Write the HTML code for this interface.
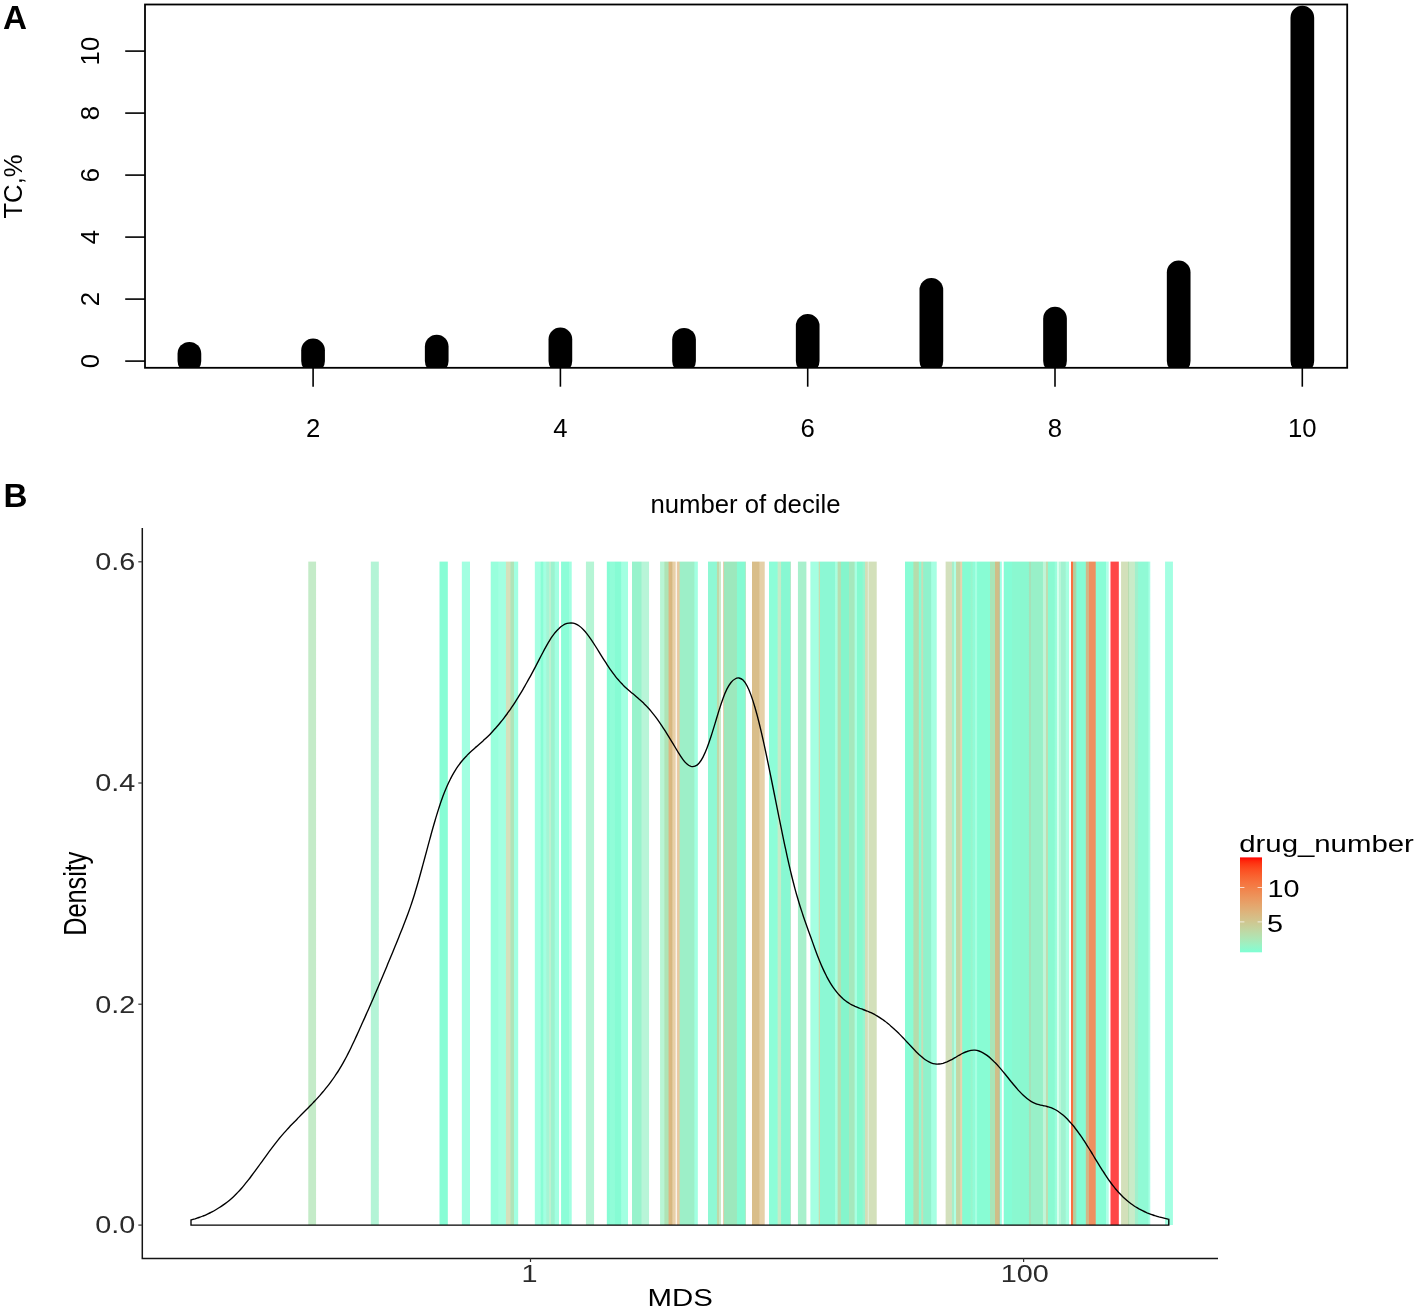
<!DOCTYPE html>
<html lang="en"><head><meta charset="utf-8"><title>Figure: TC by decile and MDS density</title>
<style>html,body{margin:0;padding:0;background:#fff}svg{display:block;will-change:transform;transform:translateZ(0)}text{font-family:"Liberation Sans",Arial,Helvetica,sans-serif}</style>
</head><body>
<svg width="1417" height="1310" viewBox="0 0 1417 1310">
<rect width="1417" height="1310" fill="#fff"/>
<defs><linearGradient id="lg" x1="0" y1="1" x2="0" y2="0">
<stop offset="0.0000" stop-color="#7FFFD4"/>
<stop offset="0.0385" stop-color="#8EF8CC"/>
<stop offset="0.0769" stop-color="#9BF2C4"/>
<stop offset="0.1154" stop-color="#A6EBBB"/>
<stop offset="0.1538" stop-color="#B0E4B3"/>
<stop offset="0.1923" stop-color="#B8DEAB"/>
<stop offset="0.2308" stop-color="#C0D7A3"/>
<stop offset="0.2692" stop-color="#C7D09B"/>
<stop offset="0.3077" stop-color="#CDC993"/>
<stop offset="0.3462" stop-color="#D3C28B"/>
<stop offset="0.3846" stop-color="#D8BB84"/>
<stop offset="0.4231" stop-color="#DDB47C"/>
<stop offset="0.4615" stop-color="#E1AC74"/>
<stop offset="0.5000" stop-color="#E5A56C"/>
<stop offset="0.5385" stop-color="#E89D65"/>
<stop offset="0.5769" stop-color="#EC965D"/>
<stop offset="0.6154" stop-color="#EE8E56"/>
<stop offset="0.6538" stop-color="#F1864E"/>
<stop offset="0.6923" stop-color="#F37D46"/>
<stop offset="0.7308" stop-color="#F6743F"/>
<stop offset="0.7692" stop-color="#F76B37"/>
<stop offset="0.8077" stop-color="#F9612F"/>
<stop offset="0.8462" stop-color="#FB5627"/>
<stop offset="0.8846" stop-color="#FC4A1F"/>
<stop offset="0.9231" stop-color="#FD3B16"/>
<stop offset="0.9615" stop-color="#FE280C"/>
<stop offset="1.0000" stop-color="#FF0000"/>
</linearGradient>
<linearGradient id="sg" gradientUnits="userSpaceOnUse" x1="300.0" y1="0" x2="1180.0" y2="0">
<stop offset="0.00051" stop-color="#FFFFFF"/>
<stop offset="0.00892" stop-color="#FFFFFF"/>
<stop offset="0.00994" stop-color="#C4EBC8"/>
<stop offset="0.01778" stop-color="#C4EBC8"/>
<stop offset="0.01881" stop-color="#FFFFFF"/>
<stop offset="0.07994" stop-color="#FFFFFF"/>
<stop offset="0.08097" stop-color="#B3F4D6"/>
<stop offset="0.08903" stop-color="#B3F4D6"/>
<stop offset="0.09006" stop-color="#FFFFFF"/>
<stop offset="0.15801" stop-color="#FFFFFF"/>
<stop offset="0.15903" stop-color="#88FDD5"/>
<stop offset="0.16744" stop-color="#88FDD5"/>
<stop offset="0.16847" stop-color="#FFFFFF"/>
<stop offset="0.18335" stop-color="#FFFFFF"/>
<stop offset="0.18438" stop-color="#A2FFE1"/>
<stop offset="0.19267" stop-color="#A2FFE1"/>
<stop offset="0.19369" stop-color="#FFFFFF"/>
<stop offset="0.21619" stop-color="#FFFFFF"/>
<stop offset="0.21722" stop-color="#98FFDC"/>
<stop offset="0.22483" stop-color="#98FFDC"/>
<stop offset="0.22585" stop-color="#A2FFE1"/>
<stop offset="0.23347" stop-color="#A2FFE1"/>
<stop offset="0.23449" stop-color="#D5E0BC"/>
<stop offset="0.23869" stop-color="#D5E0BC"/>
<stop offset="0.23972" stop-color="#B0E4B8"/>
<stop offset="0.24267" stop-color="#B0E4B8"/>
<stop offset="0.24369" stop-color="#A2FFE1"/>
<stop offset="0.24744" stop-color="#A2FFE1"/>
<stop offset="0.24847" stop-color="#FFFFFF"/>
<stop offset="0.26631" stop-color="#FFFFFF"/>
<stop offset="0.26733" stop-color="#A5FFE2"/>
<stop offset="0.27301" stop-color="#A5FFE2"/>
<stop offset="0.27403" stop-color="#88FDD5"/>
<stop offset="0.27597" stop-color="#88FDD5"/>
<stop offset="0.27699" stop-color="#A2FFE1"/>
<stop offset="0.27937" stop-color="#A2FFE1"/>
<stop offset="0.28040" stop-color="#A5F5D5"/>
<stop offset="0.28267" stop-color="#A5F5D5"/>
<stop offset="0.28369" stop-color="#C0F0D0"/>
<stop offset="0.28460" stop-color="#C0F0D0"/>
<stop offset="0.28563" stop-color="#9CF3CF"/>
<stop offset="0.28892" stop-color="#9CF3CF"/>
<stop offset="0.28994" stop-color="#A2FFE1"/>
<stop offset="0.29381" stop-color="#A2FFE1"/>
<stop offset="0.29483" stop-color="#FFFFFF"/>
<stop offset="0.29619" stop-color="#FFFFFF"/>
<stop offset="0.29722" stop-color="#8CFDD8"/>
<stop offset="0.30528" stop-color="#8CFDD8"/>
<stop offset="0.30631" stop-color="#A2FFE1"/>
<stop offset="0.30824" stop-color="#A2FFE1"/>
<stop offset="0.30926" stop-color="#FFFFFF"/>
<stop offset="0.32437" stop-color="#FFFFFF"/>
<stop offset="0.32540" stop-color="#B5F5D5"/>
<stop offset="0.33369" stop-color="#B5F5D5"/>
<stop offset="0.33472" stop-color="#FFFFFF"/>
<stop offset="0.34812" stop-color="#FFFFFF"/>
<stop offset="0.34915" stop-color="#86FCD4"/>
<stop offset="0.35153" stop-color="#86FCD4"/>
<stop offset="0.35256" stop-color="#90FDD8"/>
<stop offset="0.35733" stop-color="#90FDD8"/>
<stop offset="0.35835" stop-color="#86FCD4"/>
<stop offset="0.36449" stop-color="#86FCD4"/>
<stop offset="0.36551" stop-color="#A2FFE1"/>
<stop offset="0.37222" stop-color="#A2FFE1"/>
<stop offset="0.37324" stop-color="#FFFFFF"/>
<stop offset="0.37676" stop-color="#FFFFFF"/>
<stop offset="0.37778" stop-color="#98F3CC"/>
<stop offset="0.38756" stop-color="#98F3CC"/>
<stop offset="0.38858" stop-color="#B8F5D8"/>
<stop offset="0.39619" stop-color="#B8F5D8"/>
<stop offset="0.39722" stop-color="#FFFFFF"/>
<stop offset="0.40869" stop-color="#FFFFFF"/>
<stop offset="0.40972" stop-color="#B8F5D5"/>
<stop offset="0.41358" stop-color="#B8F5D5"/>
<stop offset="0.41460" stop-color="#AFE3B5"/>
<stop offset="0.41835" stop-color="#AFE3B5"/>
<stop offset="0.41926" stop-color="#DFB580"/>
<stop offset="0.42051" stop-color="#DFB580"/>
<stop offset="0.42153" stop-color="#D5B880"/>
<stop offset="0.42267" stop-color="#D5B880"/>
<stop offset="0.42369" stop-color="#E8D0A8"/>
<stop offset="0.42631" stop-color="#E8D0A8"/>
<stop offset="0.42733" stop-color="#FBF3EA"/>
<stop offset="0.42801" stop-color="#FBF3EA"/>
<stop offset="0.42903" stop-color="#E8C8A0"/>
<stop offset="0.43085" stop-color="#E8C8A0"/>
<stop offset="0.43188" stop-color="#9DEFC8"/>
<stop offset="0.44767" stop-color="#9DEFC8"/>
<stop offset="0.44869" stop-color="#A2FFE1"/>
<stop offset="0.45153" stop-color="#A2FFE1"/>
<stop offset="0.45256" stop-color="#FFFFFF"/>
<stop offset="0.46312" stop-color="#FFFFFF"/>
<stop offset="0.46415" stop-color="#8FF8D4"/>
<stop offset="0.47324" stop-color="#8FF8D4"/>
<stop offset="0.47426" stop-color="#C0D8A8"/>
<stop offset="0.47562" stop-color="#C0D8A8"/>
<stop offset="0.47665" stop-color="#C8EAC8"/>
<stop offset="0.47790" stop-color="#C8EAC8"/>
<stop offset="0.47892" stop-color="#FFFFFF"/>
<stop offset="0.48040" stop-color="#FFFFFF"/>
<stop offset="0.48140" stop-color="#E0C8A0"/>
<stop offset="0.48144" stop-color="#E0C8A0"/>
<stop offset="0.48244" stop-color="#9DE8BD"/>
<stop offset="0.49597" stop-color="#9DE8BD"/>
<stop offset="0.49699" stop-color="#85FAD2"/>
<stop offset="0.50517" stop-color="#85FAD2"/>
<stop offset="0.50611" stop-color="#A8E8C0"/>
<stop offset="0.50616" stop-color="#A8E8C0"/>
<stop offset="0.50710" stop-color="#FFFFFF"/>
<stop offset="0.51312" stop-color="#FFFFFF"/>
<stop offset="0.51415" stop-color="#D9BE8A"/>
<stop offset="0.52153" stop-color="#D9BE8A"/>
<stop offset="0.52256" stop-color="#E5D0A8"/>
<stop offset="0.52756" stop-color="#E5D0A8"/>
<stop offset="0.52858" stop-color="#FFFFFF"/>
<stop offset="0.53244" stop-color="#FFFFFF"/>
<stop offset="0.53347" stop-color="#8DFDD8"/>
<stop offset="0.54222" stop-color="#8DFDD8"/>
<stop offset="0.54324" stop-color="#C5EBC8"/>
<stop offset="0.54619" stop-color="#C5EBC8"/>
<stop offset="0.54722" stop-color="#88F8D2"/>
<stop offset="0.55631" stop-color="#88F8D2"/>
<stop offset="0.55719" stop-color="#A0E8C0"/>
<stop offset="0.55724" stop-color="#A0E8C0"/>
<stop offset="0.55813" stop-color="#FFFFFF"/>
<stop offset="0.56528" stop-color="#FFFFFF"/>
<stop offset="0.56631" stop-color="#A8F0CC"/>
<stop offset="0.57494" stop-color="#A8F0CC"/>
<stop offset="0.57597" stop-color="#FFFFFF"/>
<stop offset="0.57949" stop-color="#FFFFFF"/>
<stop offset="0.58051" stop-color="#A5FFE2"/>
<stop offset="0.58892" stop-color="#A5FFE2"/>
<stop offset="0.58994" stop-color="#C8DDB0"/>
<stop offset="0.59040" stop-color="#C8DDB0"/>
<stop offset="0.59142" stop-color="#8CF8D4"/>
<stop offset="0.60756" stop-color="#8CF8D4"/>
<stop offset="0.60858" stop-color="#A8FFE0"/>
<stop offset="0.61040" stop-color="#A8FFE0"/>
<stop offset="0.61142" stop-color="#B8DDB0"/>
<stop offset="0.61403" stop-color="#B8DDB0"/>
<stop offset="0.61506" stop-color="#85F5CC"/>
<stop offset="0.62335" stop-color="#85F5CC"/>
<stop offset="0.62438" stop-color="#A5E8BD"/>
<stop offset="0.62972" stop-color="#A5E8BD"/>
<stop offset="0.63074" stop-color="#A8FFE2"/>
<stop offset="0.63244" stop-color="#A8FFE2"/>
<stop offset="0.63347" stop-color="#85FAD0"/>
<stop offset="0.63881" stop-color="#85FAD0"/>
<stop offset="0.63983" stop-color="#98F5D0"/>
<stop offset="0.64165" stop-color="#98F5D0"/>
<stop offset="0.64267" stop-color="#D5DDB8"/>
<stop offset="0.64460" stop-color="#D5DDB8"/>
<stop offset="0.64563" stop-color="#E0EDD5"/>
<stop offset="0.64608" stop-color="#E0EDD5"/>
<stop offset="0.64710" stop-color="#D3E0BA"/>
<stop offset="0.65483" stop-color="#D3E0BA"/>
<stop offset="0.65585" stop-color="#FFFFFF"/>
<stop offset="0.68699" stop-color="#FFFFFF"/>
<stop offset="0.68801" stop-color="#88FCD5"/>
<stop offset="0.69653" stop-color="#88FCD5"/>
<stop offset="0.69756" stop-color="#B5DDAD"/>
<stop offset="0.70267" stop-color="#B5DDAD"/>
<stop offset="0.70369" stop-color="#88FCD5"/>
<stop offset="0.70551" stop-color="#88FCD5"/>
<stop offset="0.70653" stop-color="#C8DDB5"/>
<stop offset="0.70767" stop-color="#C8DDB5"/>
<stop offset="0.70869" stop-color="#90F2CC"/>
<stop offset="0.71676" stop-color="#90F2CC"/>
<stop offset="0.71778" stop-color="#A5FFE2"/>
<stop offset="0.72301" stop-color="#A5FFE2"/>
<stop offset="0.72403" stop-color="#FFFFFF"/>
<stop offset="0.73313" stop-color="#FFFFFF"/>
<stop offset="0.73415" stop-color="#D3E0BD"/>
<stop offset="0.74028" stop-color="#D3E0BD"/>
<stop offset="0.74131" stop-color="#A8EEC8"/>
<stop offset="0.74267" stop-color="#A8EEC8"/>
<stop offset="0.74369" stop-color="#B0FFE5"/>
<stop offset="0.74506" stop-color="#B0FFE5"/>
<stop offset="0.74608" stop-color="#C5D5A5"/>
<stop offset="0.74983" stop-color="#C5D5A5"/>
<stop offset="0.75085" stop-color="#E8D5B0"/>
<stop offset="0.75199" stop-color="#E8D5B0"/>
<stop offset="0.75301" stop-color="#85FCD2"/>
<stop offset="0.76142" stop-color="#85FCD2"/>
<stop offset="0.76244" stop-color="#98F5CC"/>
<stop offset="0.76381" stop-color="#98F5CC"/>
<stop offset="0.76483" stop-color="#90FCD8"/>
<stop offset="0.76665" stop-color="#90FCD8"/>
<stop offset="0.76767" stop-color="#A8FFE2"/>
<stop offset="0.76892" stop-color="#A8FFE2"/>
<stop offset="0.76994" stop-color="#88FCD4"/>
<stop offset="0.78358" stop-color="#88FCD4"/>
<stop offset="0.78460" stop-color="#A8E5B8"/>
<stop offset="0.78926" stop-color="#A8E5B8"/>
<stop offset="0.79028" stop-color="#D0BE88"/>
<stop offset="0.79369" stop-color="#D0BE88"/>
<stop offset="0.79464" stop-color="#C0B890"/>
<stop offset="0.79468" stop-color="#C0B890"/>
<stop offset="0.79563" stop-color="#A0FFE5"/>
<stop offset="0.79699" stop-color="#A0FFE5"/>
<stop offset="0.79801" stop-color="#FFFFFF"/>
<stop offset="0.79915" stop-color="#FFFFFF"/>
<stop offset="0.80017" stop-color="#85FCD5"/>
<stop offset="0.80858" stop-color="#85FCD5"/>
<stop offset="0.80960" stop-color="#8AF8D0"/>
<stop offset="0.82778" stop-color="#8AF8D0"/>
<stop offset="0.82881" stop-color="#A8E0B8"/>
<stop offset="0.83017" stop-color="#A8E0B8"/>
<stop offset="0.83119" stop-color="#98F0C8"/>
<stop offset="0.84369" stop-color="#98F0C8"/>
<stop offset="0.84472" stop-color="#C0F5D8"/>
<stop offset="0.84710" stop-color="#C0F5D8"/>
<stop offset="0.84813" stop-color="#C0DDB0"/>
<stop offset="0.84949" stop-color="#C0DDB0"/>
<stop offset="0.85051" stop-color="#8AFAD2"/>
<stop offset="0.85710" stop-color="#8AFAD2"/>
<stop offset="0.85813" stop-color="#98FDDC"/>
<stop offset="0.85960" stop-color="#98FDDC"/>
<stop offset="0.86063" stop-color="#D8FFEE"/>
<stop offset="0.86188" stop-color="#D8FFEE"/>
<stop offset="0.86290" stop-color="#B8F5D8"/>
<stop offset="0.86426" stop-color="#B8F5D8"/>
<stop offset="0.86528" stop-color="#A0F2D0"/>
<stop offset="0.86960" stop-color="#A0F2D0"/>
<stop offset="0.87063" stop-color="#A5FFE0"/>
<stop offset="0.87347" stop-color="#A5FFE0"/>
<stop offset="0.87449" stop-color="#FFFFFF"/>
<stop offset="0.87562" stop-color="#FFFFFF"/>
<stop offset="0.87665" stop-color="#FA7040"/>
<stop offset="0.87801" stop-color="#FA7040"/>
<stop offset="0.87903" stop-color="#B0D0A0"/>
<stop offset="0.88108" stop-color="#B0D0A0"/>
<stop offset="0.88210" stop-color="#90EEC8"/>
<stop offset="0.88244" stop-color="#90EEC8"/>
<stop offset="0.88347" stop-color="#85FCD5"/>
<stop offset="0.89244" stop-color="#85FCD5"/>
<stop offset="0.89347" stop-color="#D0B888"/>
<stop offset="0.89608" stop-color="#D0B888"/>
<stop offset="0.89710" stop-color="#EE9060"/>
<stop offset="0.90369" stop-color="#EE9060"/>
<stop offset="0.90472" stop-color="#88FDD6"/>
<stop offset="0.91540" stop-color="#88FDD6"/>
<stop offset="0.91642" stop-color="#B0FFE8"/>
<stop offset="0.91847" stop-color="#B0FFE8"/>
<stop offset="0.91949" stop-color="#FFFFFF"/>
<stop offset="0.92051" stop-color="#FFFFFF"/>
<stop offset="0.92153" stop-color="#FF4848"/>
<stop offset="0.92994" stop-color="#FF4848"/>
<stop offset="0.93097" stop-color="#FFFFFF"/>
<stop offset="0.93256" stop-color="#FFFFFF"/>
<stop offset="0.93358" stop-color="#D3E0BA"/>
<stop offset="0.94040" stop-color="#D3E0BA"/>
<stop offset="0.94142" stop-color="#B8DDB0"/>
<stop offset="0.94165" stop-color="#B8DDB0"/>
<stop offset="0.94267" stop-color="#C8EBC8"/>
<stop offset="0.94824" stop-color="#C8EBC8"/>
<stop offset="0.94926" stop-color="#A0F0CC"/>
<stop offset="0.95187" stop-color="#A0F0CC"/>
<stop offset="0.95290" stop-color="#90FAD5"/>
<stop offset="0.96369" stop-color="#90FAD5"/>
<stop offset="0.96472" stop-color="#A8FFE5"/>
<stop offset="0.96574" stop-color="#A8FFE5"/>
<stop offset="0.96676" stop-color="#FFFFFF"/>
<stop offset="0.98256" stop-color="#FFFFFF"/>
<stop offset="0.98358" stop-color="#A3FFE2"/>
<stop offset="0.99142" stop-color="#A3FFE2"/>
<stop offset="0.99244" stop-color="#FFFFFF"/>
<stop offset="0.99949" stop-color="#FFFFFF"/>
</linearGradient>
<clipPath id="ca"><rect x="145" y="4.5" width="1202.2" height="363"/></clipPath>
</defs>
<g id="panelA">
<text x="2.9" y="29" font-size="33.2" font-weight="bold" fill="#000">A</text>
<g clip-path="url(#ca)" fill="#000">
<path d="M177.55,361.1 V353.75 A11.85,11.85 0 0 1 201.25,353.75 V361.1 A11.85,11.85 0 0 1 177.55,361.1 Z"/>
<path d="M301.21,361.1 V350.35 A11.85,11.85 0 0 1 324.91,350.35 V361.1 A11.85,11.85 0 0 1 301.21,361.1 Z"/>
<path d="M424.87,361.1 V346.55 A11.85,11.85 0 0 1 448.57,346.55 V361.1 A11.85,11.85 0 0 1 424.87,361.1 Z"/>
<path d="M548.53,361.1 V339.35 A11.85,11.85 0 0 1 572.23,339.35 V361.1 A11.85,11.85 0 0 1 548.53,361.1 Z"/>
<path d="M672.19,361.1 V339.75 A11.85,11.85 0 0 1 695.89,339.75 V361.1 A11.85,11.85 0 0 1 672.19,361.1 Z"/>
<path d="M795.85,361.1 V325.85 A11.85,11.85 0 0 1 819.55,325.85 V361.1 A11.85,11.85 0 0 1 795.85,361.1 Z"/>
<path d="M919.51,361.1 V289.85 A11.85,11.85 0 0 1 943.21,289.85 V361.1 A11.85,11.85 0 0 1 919.51,361.1 Z"/>
<path d="M1043.17,361.1 V318.65 A11.85,11.85 0 0 1 1066.87,318.65 V361.1 A11.85,11.85 0 0 1 1043.17,361.1 Z"/>
<path d="M1166.83,361.1 V272.45 A11.85,11.85 0 0 1 1190.53,272.45 V361.1 A11.85,11.85 0 0 1 1166.83,361.1 Z"/>
<path d="M1290.49,361.1 V17.65 A11.85,11.85 0 0 1 1314.19,17.65 V361.1 A11.85,11.85 0 0 1 1290.49,361.1 Z"/>
</g>
<rect x="145" y="4.5" width="1202.2" height="363.3" fill="none" stroke="#000" stroke-width="1.8"/>
<g stroke="#000" stroke-width="1.6" fill="none">
<line x1="125.2" y1="361.1" x2="145" y2="361.1"/>
<line x1="125.2" y1="299.1" x2="145" y2="299.1"/>
<line x1="125.2" y1="237.1" x2="145" y2="237.1"/>
<line x1="125.2" y1="175.1" x2="145" y2="175.1"/>
<line x1="125.2" y1="113.1" x2="145" y2="113.1"/>
<line x1="125.2" y1="51.1" x2="145" y2="51.1"/>
<line x1="313.1" y1="367.5" x2="313.1" y2="386.7"/>
<line x1="560.4" y1="367.5" x2="560.4" y2="386.7"/>
<line x1="807.7" y1="367.5" x2="807.7" y2="386.7"/>
<line x1="1055.0" y1="367.5" x2="1055.0" y2="386.7"/>
<line x1="1302.3" y1="367.5" x2="1302.3" y2="386.7"/>
</g>
<g font-size="25.7" fill="#000" text-anchor="middle">
<text transform="translate(99.2,361.1) rotate(-90)">0</text>
<text transform="translate(99.2,299.1) rotate(-90)">2</text>
<text transform="translate(99.2,237.1) rotate(-90)">4</text>
<text transform="translate(99.2,175.1) rotate(-90)">6</text>
<text transform="translate(99.2,113.1) rotate(-90)">8</text>
<text transform="translate(99.2,51.1) rotate(-90)">10</text>
<text transform="translate(22.1,186.5) rotate(-90)">TC,%</text>
<text x="313.1" y="437.1">2</text>
<text x="560.4" y="437.1">4</text>
<text x="807.7" y="437.1">6</text>
<text x="1055.0" y="437.1">8</text>
<text x="1302.3" y="437.1">10</text>
<text x="745.5" y="512.9" font-size="25.7">number of decile</text>
</g>
</g>
<g id="panelB">
<text x="3.5" y="506.8" font-size="33.2" font-weight="bold" fill="#000">B</text>
<rect x="300.0" y="561.6" width="880.0" height="663.4" fill="url(#sg)"/>
<path d="M191.0,1225.1 L191.0,1220.0 L191.0,1220.0 C191.7,1219.8 193.7,1219.3 195.0,1218.9 C196.3,1218.4 197.7,1218.0 199.0,1217.5 C200.3,1217.1 201.7,1216.6 203.0,1216.0 C204.3,1215.5 205.7,1214.9 207.0,1214.3 C208.3,1213.7 209.7,1213.1 211.0,1212.4 C212.3,1211.7 213.7,1211.0 215.0,1210.2 C216.3,1209.4 217.7,1208.6 219.0,1207.8 C220.3,1207.0 221.7,1206.1 223.0,1205.1 C224.3,1204.2 225.7,1203.2 227.0,1202.2 C228.3,1201.2 229.7,1200.1 231.0,1198.9 C232.3,1197.8 233.7,1196.5 235.0,1195.2 C236.3,1193.9 237.7,1192.6 239.0,1191.1 C240.3,1189.7 241.7,1188.2 243.0,1186.6 C244.3,1185.0 245.7,1183.4 247.0,1181.7 C248.3,1180.0 249.7,1178.3 251.0,1176.5 C252.3,1174.8 253.7,1173.0 255.0,1171.2 C256.3,1169.4 257.7,1167.5 259.0,1165.7 C260.3,1163.8 261.7,1162.0 263.0,1160.1 C264.3,1158.3 265.7,1156.4 267.0,1154.6 C268.3,1152.8 269.7,1150.9 271.0,1149.2 C272.3,1147.4 273.7,1145.6 275.0,1143.9 C276.3,1142.2 277.7,1140.5 279.0,1138.8 C280.3,1137.2 281.7,1135.6 283.0,1134.1 C284.3,1132.6 285.7,1131.1 287.0,1129.6 C288.3,1128.1 289.7,1126.7 291.0,1125.3 C292.3,1123.9 293.7,1122.5 295.0,1121.2 C296.3,1119.8 297.7,1118.5 299.0,1117.1 C300.3,1115.8 301.7,1114.4 303.0,1113.1 C304.3,1111.8 305.7,1110.4 307.0,1109.1 C308.3,1107.7 309.7,1106.4 311.0,1105.0 C312.3,1103.6 313.7,1102.2 315.0,1100.8 C316.3,1099.3 317.7,1097.9 319.0,1096.4 C320.3,1094.9 321.7,1093.4 323.0,1091.8 C324.3,1090.2 325.7,1088.6 327.0,1086.9 C328.3,1085.2 329.7,1083.5 331.0,1081.7 C332.3,1079.9 333.7,1078.0 335.0,1076.0 C336.3,1074.0 337.7,1072.0 339.0,1069.8 C340.3,1067.7 341.7,1065.4 343.0,1063.1 C344.3,1060.7 345.7,1058.2 347.0,1055.7 C348.3,1053.1 349.7,1050.4 351.0,1047.7 C352.3,1044.9 353.7,1042.1 355.0,1039.2 C356.3,1036.3 357.7,1033.4 359.0,1030.5 C360.3,1027.5 361.7,1024.6 363.0,1021.6 C364.3,1018.6 365.7,1015.6 367.0,1012.6 C368.3,1009.6 369.7,1006.6 371.0,1003.5 C372.3,1000.4 373.7,997.4 375.0,994.3 C376.3,991.2 377.7,988.1 379.0,984.9 C380.3,981.8 381.7,978.6 383.0,975.5 C384.3,972.3 385.7,969.1 387.0,965.9 C388.3,962.7 389.7,959.5 391.0,956.3 C392.3,953.0 393.7,949.8 395.0,946.5 C396.3,943.3 397.7,940.0 399.0,936.7 C400.3,933.4 401.7,930.1 403.0,926.7 C404.3,923.3 405.7,919.9 407.0,916.3 C408.3,912.7 409.7,909.1 411.0,905.1 C412.3,901.2 413.7,897.1 415.0,892.7 C416.3,888.3 417.7,883.7 419.0,879.0 C420.3,874.3 421.7,869.3 423.0,864.4 C424.3,859.5 425.7,854.5 427.0,849.6 C428.3,844.6 429.7,839.6 431.0,834.8 C432.3,830.0 433.7,825.2 435.0,820.7 C436.3,816.2 437.7,811.8 439.0,807.7 C440.3,803.6 441.7,799.7 443.0,796.1 C444.3,792.6 445.7,789.3 447.0,786.3 C448.3,783.2 449.7,780.5 451.0,777.9 C452.3,775.3 453.7,773.0 455.0,770.8 C456.3,768.6 457.7,766.7 459.0,764.8 C460.3,763.0 461.7,761.3 463.0,759.8 C464.3,758.2 465.7,756.7 467.0,755.4 C468.3,754.0 469.7,752.7 471.0,751.5 C472.3,750.3 473.7,749.1 475.0,747.9 C476.3,746.8 477.7,745.7 479.0,744.5 C480.3,743.3 481.7,742.2 483.0,741.0 C484.3,739.7 485.7,738.5 487.0,737.2 C488.3,735.9 489.7,734.6 491.0,733.2 C492.3,731.8 493.7,730.3 495.0,728.8 C496.3,727.3 497.7,725.8 499.0,724.2 C500.3,722.6 501.7,721.0 503.0,719.3 C504.3,717.6 505.7,715.8 507.0,714.0 C508.3,712.1 509.7,710.3 511.0,708.3 C512.3,706.4 513.7,704.4 515.0,702.3 C516.3,700.2 517.7,698.1 519.0,695.9 C520.3,693.8 521.7,691.5 523.0,689.3 C524.3,687.0 525.7,684.7 527.0,682.3 C528.3,679.9 529.7,677.5 531.0,675.1 C532.3,672.6 533.7,670.1 535.0,667.6 C536.3,665.1 537.7,662.5 539.0,659.9 C540.3,657.4 541.7,654.7 543.0,652.2 C544.3,649.7 545.7,647.2 547.0,644.9 C548.3,642.5 549.7,640.3 551.0,638.2 C552.3,636.2 553.7,634.4 555.0,632.7 C556.3,631.1 557.7,629.6 559.0,628.4 C560.3,627.1 561.7,626.1 563.0,625.3 C564.3,624.4 565.7,623.8 567.0,623.4 C568.3,623.0 569.7,622.8 571.0,622.8 C572.3,622.9 573.7,623.1 575.0,623.6 C576.3,624.1 577.7,624.8 579.0,625.8 C580.3,626.7 581.7,627.9 583.0,629.3 C584.3,630.6 585.7,632.2 587.0,633.9 C588.3,635.6 589.7,637.5 591.0,639.4 C592.3,641.3 593.7,643.4 595.0,645.5 C596.3,647.5 597.7,649.7 599.0,651.8 C600.3,654.0 601.7,656.2 603.0,658.3 C604.3,660.4 605.7,662.5 607.0,664.6 C608.3,666.6 609.7,668.5 611.0,670.4 C612.3,672.3 613.7,674.1 615.0,675.8 C616.3,677.5 617.7,679.1 619.0,680.6 C620.3,682.1 621.7,683.5 623.0,684.9 C624.3,686.2 625.7,687.5 627.0,688.7 C628.3,689.9 629.7,691.0 631.0,692.2 C632.3,693.3 633.7,694.4 635.0,695.5 C636.3,696.7 637.7,697.8 639.0,699.0 C640.3,700.1 641.7,701.3 643.0,702.6 C644.3,703.9 645.7,705.2 647.0,706.6 C648.3,708.0 649.7,709.5 651.0,711.1 C652.3,712.7 653.7,714.4 655.0,716.2 C656.3,717.9 657.7,719.8 659.0,721.7 C660.3,723.6 661.7,725.5 663.0,727.6 C664.3,729.6 665.7,731.7 667.0,733.8 C668.3,735.9 669.7,738.1 671.0,740.3 C672.3,742.5 673.7,744.8 675.0,747.0 C676.3,749.2 677.7,751.6 679.0,753.7 C680.3,755.8 681.7,757.9 683.0,759.6 C684.3,761.4 685.7,762.9 687.0,764.0 C688.3,765.2 689.7,766.0 691.0,766.4 C692.3,766.7 693.7,766.7 695.0,766.2 C696.3,765.7 697.7,764.7 699.0,763.2 C700.3,761.7 701.7,759.6 703.0,757.1 C704.3,754.5 705.7,751.4 707.0,748.0 C708.3,744.6 709.7,740.6 711.0,736.5 C712.3,732.5 713.7,727.9 715.0,723.6 C716.3,719.2 717.7,714.6 719.0,710.4 C720.3,706.2 721.7,702.0 723.0,698.4 C724.3,694.8 725.7,691.5 727.0,688.9 C728.3,686.2 729.7,684.2 731.0,682.5 C732.3,680.9 733.7,679.7 735.0,679.0 C736.3,678.2 737.7,677.8 739.0,678.0 C740.3,678.2 741.7,678.8 743.0,680.1 C744.3,681.4 745.7,683.3 747.0,685.8 C748.3,688.3 749.7,691.4 751.0,695.1 C752.3,698.7 753.7,702.9 755.0,707.5 C756.3,712.0 757.7,717.1 759.0,722.5 C760.3,727.8 761.7,733.6 763.0,739.5 C764.3,745.4 765.7,751.7 767.0,758.0 C768.3,764.3 769.7,770.9 771.0,777.5 C772.3,784.0 773.7,790.7 775.0,797.4 C776.3,804.0 777.7,810.7 779.0,817.3 C780.3,823.9 781.7,830.5 783.0,836.8 C784.3,843.2 785.7,849.5 787.0,855.6 C788.3,861.6 789.7,867.5 791.0,873.0 C792.3,878.6 793.7,883.9 795.0,888.8 C796.3,893.8 797.7,898.3 799.0,902.7 C800.3,907.1 801.7,911.2 803.0,915.2 C804.3,919.2 805.7,922.9 807.0,926.7 C808.3,930.5 809.7,934.1 811.0,937.8 C812.3,941.5 813.7,945.3 815.0,948.9 C816.3,952.5 817.7,956.2 819.0,959.5 C820.3,962.8 821.7,966.0 823.0,968.9 C824.3,971.8 825.7,974.5 827.0,977.1 C828.3,979.6 829.7,981.9 831.0,984.1 C832.3,986.2 833.7,988.2 835.0,989.9 C836.3,991.7 837.7,993.3 839.0,994.8 C840.3,996.3 841.7,997.6 843.0,998.8 C844.3,999.9 845.7,1000.9 847.0,1001.9 C848.3,1002.8 849.7,1003.6 851.0,1004.4 C852.3,1005.1 853.7,1005.7 855.0,1006.4 C856.3,1007.0 857.7,1007.5 859.0,1008.0 C860.3,1008.6 861.7,1009.0 863.0,1009.5 C864.3,1010.0 865.7,1010.5 867.0,1011.0 C868.3,1011.6 869.7,1012.1 871.0,1012.7 C872.3,1013.3 873.7,1014.0 875.0,1014.7 C876.3,1015.5 877.7,1016.3 879.0,1017.1 C880.3,1017.9 881.7,1018.8 883.0,1019.8 C884.3,1020.8 885.7,1021.8 887.0,1022.8 C888.3,1023.9 889.7,1025.0 891.0,1026.2 C892.3,1027.3 893.7,1028.5 895.0,1029.8 C896.3,1031.0 897.7,1032.3 899.0,1033.6 C900.3,1034.9 901.7,1036.3 903.0,1037.7 C904.3,1039.1 905.7,1040.5 907.0,1042.0 C908.3,1043.4 909.7,1044.9 911.0,1046.3 C912.3,1047.7 913.7,1049.2 915.0,1050.5 C916.3,1051.9 917.7,1053.2 919.0,1054.5 C920.3,1055.7 921.7,1056.9 923.0,1057.9 C924.3,1059.0 925.7,1060.0 927.0,1060.8 C928.3,1061.6 929.7,1062.3 931.0,1062.8 C932.3,1063.3 933.7,1063.7 935.0,1063.9 C936.3,1064.1 937.7,1064.1 939.0,1064.0 C940.3,1063.9 941.7,1063.6 943.0,1063.3 C944.3,1062.9 945.7,1062.4 947.0,1061.9 C948.3,1061.3 949.7,1060.6 951.0,1059.9 C952.3,1059.2 953.7,1058.4 955.0,1057.7 C956.3,1056.9 957.7,1056.1 959.0,1055.3 C960.3,1054.6 961.7,1053.8 963.0,1053.2 C964.3,1052.5 965.7,1051.9 967.0,1051.5 C968.3,1051.0 969.7,1050.6 971.0,1050.4 C972.3,1050.2 973.7,1050.1 975.0,1050.2 C976.3,1050.3 977.7,1050.6 979.0,1051.0 C980.3,1051.5 981.7,1052.1 983.0,1052.8 C984.3,1053.5 985.7,1054.4 987.0,1055.4 C988.3,1056.4 989.7,1057.5 991.0,1058.7 C992.3,1059.9 993.7,1061.2 995.0,1062.6 C996.3,1063.9 997.7,1065.4 999.0,1066.9 C1000.3,1068.4 1001.7,1070.0 1003.0,1071.6 C1004.3,1073.2 1005.7,1074.9 1007.0,1076.5 C1008.3,1078.2 1009.7,1079.8 1011.0,1081.5 C1012.3,1083.1 1013.7,1084.8 1015.0,1086.3 C1016.3,1087.9 1017.7,1089.4 1019.0,1090.9 C1020.3,1092.3 1021.7,1093.8 1023.0,1095.0 C1024.3,1096.3 1025.7,1097.5 1027.0,1098.6 C1028.3,1099.7 1029.7,1100.6 1031.0,1101.4 C1032.3,1102.2 1033.7,1102.8 1035.0,1103.3 C1036.3,1103.9 1037.7,1104.3 1039.0,1104.6 C1040.3,1105.0 1041.7,1105.3 1043.0,1105.6 C1044.3,1105.9 1045.7,1106.1 1047.0,1106.5 C1048.3,1106.9 1049.7,1107.2 1051.0,1107.7 C1052.3,1108.2 1053.7,1108.8 1055.0,1109.5 C1056.3,1110.2 1057.7,1111.0 1059.0,1112.0 C1060.3,1112.9 1061.7,1114.0 1063.0,1115.1 C1064.3,1116.2 1065.7,1117.5 1067.0,1118.8 C1068.3,1120.2 1069.7,1121.6 1071.0,1123.1 C1072.3,1124.7 1073.7,1126.3 1075.0,1128.0 C1076.3,1129.7 1077.7,1131.5 1079.0,1133.3 C1080.3,1135.2 1081.7,1137.1 1083.0,1139.1 C1084.3,1141.1 1085.7,1143.2 1087.0,1145.3 C1088.3,1147.4 1089.7,1149.6 1091.0,1151.7 C1092.3,1153.9 1093.7,1156.1 1095.0,1158.3 C1096.3,1160.4 1097.7,1162.6 1099.0,1164.8 C1100.3,1167.0 1101.7,1169.1 1103.0,1171.2 C1104.3,1173.3 1105.7,1175.3 1107.0,1177.3 C1108.3,1179.3 1109.7,1181.2 1111.0,1183.0 C1112.3,1184.8 1113.7,1186.5 1115.0,1188.2 C1116.3,1189.8 1117.7,1191.3 1119.0,1192.8 C1120.3,1194.2 1121.7,1195.6 1123.0,1196.9 C1124.3,1198.2 1125.7,1199.4 1127.0,1200.5 C1128.3,1201.6 1129.7,1202.7 1131.0,1203.7 C1132.3,1204.7 1133.7,1205.6 1135.0,1206.5 C1136.3,1207.3 1137.7,1208.1 1139.0,1208.9 C1140.3,1209.6 1141.7,1210.3 1143.0,1210.9 C1144.3,1211.6 1145.7,1212.2 1147.0,1212.8 C1148.3,1213.3 1149.7,1213.8 1151.0,1214.3 C1152.3,1214.8 1153.7,1215.2 1155.0,1215.7 C1156.3,1216.1 1157.7,1216.5 1159.0,1216.9 C1160.3,1217.2 1161.7,1217.6 1163.0,1217.9 C1164.3,1218.3 1166.0,1218.7 1167.0,1218.9 C1168.0,1219.1 1168.5,1219.3 1168.8,1219.3 L1168.8,1225.1 Z" fill="none" stroke="#000" stroke-width="1.35" stroke-linejoin="miter"/>
<g stroke="#141414" stroke-width="1.5" fill="none">
<path d="M142.3,528 V1258.4 H1218"/>
</g>
<g stroke="#333" stroke-width="1.2" fill="none">
<line x1="138.3" y1="561.8" x2="142.3" y2="561.8"/>
<line x1="138.3" y1="783.0" x2="142.3" y2="783.0"/>
<line x1="138.3" y1="1004.2" x2="142.3" y2="1004.2"/>
<line x1="138.3" y1="1225.1" x2="142.3" y2="1225.1"/>
<line x1="530.5" y1="1258.4" x2="530.5" y2="1262"/>
<line x1="1023.6" y1="1258.4" x2="1023.6" y2="1262"/>
</g>
<g font-size="24.7" fill="#2b2b2b">
<text transform="translate(135.3,570.1) scale(1.165,1)" text-anchor="end">0.6</text>
<text transform="translate(135.3,791.3) scale(1.165,1)" text-anchor="end">0.4</text>
<text transform="translate(135.3,1012.5) scale(1.165,1)" text-anchor="end">0.2</text>
<text transform="translate(135.3,1233.4) scale(1.165,1)" text-anchor="end">0.0</text>
<text transform="translate(529.5,1282) scale(1.165,1)" text-anchor="middle">1</text>
<text transform="translate(1024.7,1282) scale(1.165,1)" text-anchor="middle">100</text>
</g>
<g font-size="24.5" fill="#000">
<text transform="translate(680.1,1305.7) scale(1.2,1)" text-anchor="middle">MDS</text>
<text transform="translate(86.2,893.7) scale(1.275,1) rotate(-90)" text-anchor="middle" font-size="25.3">Density</text>
<text transform="translate(1239.2,852.3) scale(1.245,1)" font-size="23.6">drug_number</text>
<rect x="1240" y="857.4" width="22" height="94.9" fill="url(#lg)"/>
<g stroke="#fff" stroke-width="1" opacity="0.7">
<line x1="1240" y1="887.5" x2="1244.4" y2="887.5"/><line x1="1257.6" y1="887.5" x2="1262" y2="887.5"/>
<line x1="1240" y1="921.9" x2="1244.4" y2="921.9"/><line x1="1257.6" y1="921.9" x2="1262" y2="921.9"/>
</g>
<text transform="translate(1267.5,896.9) scale(1.2,1)" font-size="24">10</text>
<text transform="translate(1267.0,931.5) scale(1.2,1)" font-size="24">5</text>
</g>
</g>
</svg></body></html>
